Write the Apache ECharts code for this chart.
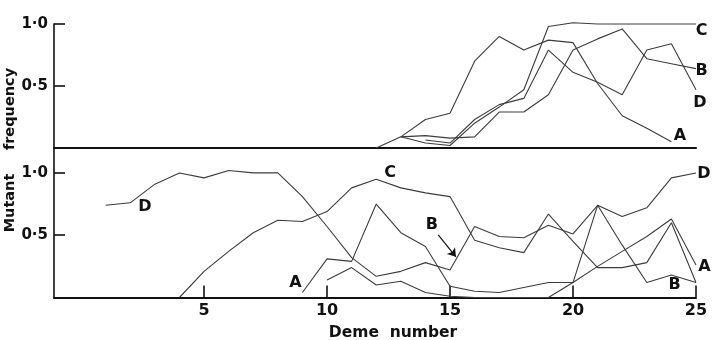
<!DOCTYPE html>
<html>
<head>
<meta charset="utf-8">
<script src="https://cdn.jsdelivr.net/npm/echarts@6/dist/echarts.min.js"></script>
<style>
html,body{margin:0;padding:0;background:#fff;}
#c{width:714px;height:340px;}
</style>
</head>
<body>
<div id="c"></div>
<script>
// Deme numbers (x values)
const demes = [1,2,3,4,5,6,7,8,9,10,11,12,13,14,15,16,17,18,19,20,21,22,23,24,25];
const xTickValues = [5,10,15,20,25];
const yTickValues = [0.5,1.0];

// Upper panel mutant frequencies (null = no value)
const topA = [null,null,null,null,null,null,null,null,null,null,null,0.00,0.09,0.23,0.28,0.70,0.90,0.79,0.87,0.85,0.52,0.26,0.16,0.05,null];
const topB = [null,null,null,null,null,null,null,null,null,null,null,null,0.09,0.10,0.08,0.09,0.29,0.29,0.43,0.79,0.88,0.96,0.72,0.68,0.64];
const topC = [null,null,null,null,null,null,null,null,null,null,null,null,0.09,0.04,0.02,0.20,0.33,0.47,0.98,1.01,1.00,1.00,1.00,1.00,1.00];
const topD = [null,null,null,null,null,null,null,null,null,null,null,null,null,0.065,0.04,0.23,0.35,0.40,0.79,0.61,0.53,0.43,0.79,0.84,0.47];

// Lower panel mutant frequencies
const botA = [null,null,null,null,null,null,null,null,0.04,0.31,0.29,0.75,0.52,0.41,0.09,0.05,0.04,0.08,0.12,0.12,0.25,0.37,0.49,0.63,0.26];
const botB = [null,null,null,null,null,null,null,null,null,0.14,0.24,0.10,0.13,0.04,0.01,0.00,0.00,0.00,0.00,0.12,0.74,0.42,0.12,0.18,0.12];
const botC = [null,null,null,0.00,0.21,0.37,0.52,0.62,0.61,0.69,0.88,0.95,0.88,0.84,0.81,0.46,0.40,0.36,0.67,0.45,0.24,0.24,0.28,0.60,0.12];
const botD = [0.74,0.76,0.91,1.00,0.96,1.02,1.00,1.00,0.81,0.57,0.32,0.17,0.21,0.28,0.22,0.57,0.49,0.48,0.58,0.51,0.74,0.65,0.72,0.96,1.00];

// Curve labels (data coordinates, panel index)
const curveLabels = [
  {t:'C', p:0, x:25.23, y:0.946},
  {t:'B', p:0, x:25.23, y:0.621},
  {t:'D', p:0, x:25.16, y:0.363},
  {t:'A', p:0, x:24.35, y:0.097},
  {t:'C', p:1, x:12.56, y:0.997},
  {t:'D', p:1, x:25.32, y:0.99},
  {t:'A', p:1, x:25.34, y:0.247},
  {t:'B', p:1, x:24.13, y:0.100},
  {t:'B', p:1, x:14.26, y:0.582},
  {t:'D', p:1, x:2.60, y:0.729},
  {t:'A', p:1, x:8.72, y:0.114}
];
const arrowFrom = [14.52, 0.502];
const arrowTo = [15.24, 0.327];

const FONT = '"DejaVu Sans", "Liberation Sans", sans-serif';
const LINE_COLOR = '#3c3c3c';

function pairs(vals){
  const out = [];
  vals.forEach((v,i)=>{ if(v!==null) out.push([demes[i], v]); });
  return out;
}
function fmtY(v){ return v.toFixed(1).replace('.', '\u00b7'); }

function lineSeries(name, vals, idx, extra){
  return Object.assign({
    name: name, type:'line', xAxisIndex: idx, yAxisIndex: idx,
    data: pairs(vals), showSymbol:false, symbol:'none', clip:false,
    lineStyle:{color:LINE_COLOR, width:1.1}, silent:true
  }, extra||{});
}

const chart = echarts.init(document.getElementById('c'), null, {renderer:'canvas'});

function yAxisCfg(idx, max){
  return {
    type:'value', gridIndex: idx, min:0, max:max,
    axisLine:{show:true, onZero:false, lineStyle:{color:'#111', width:1.6}},
    axisTick:{show:true, inside:true, length:11, customValues:yTickValues, lineStyle:{color:'#111', width:1.6}},
    axisLabel:{show:true, customValues:yTickValues, formatter:fmtY, margin:6,
      fontFamily:FONT, fontWeight:'bold', fontSize:15, color:'#111'},
    splitLine:{show:false}
  };
}

chart.setOption({
  animation:false,
  backgroundColor:'#fff',
  grid:[
    {left:54, right:18, top:24, height:124},
    {left:54, right:18, top:148, height:149.5}
  ],
  xAxis:[
    {type:'value', gridIndex:0, min:-1.1, max:25,
     axisLine:{show:true, onZero:false, lineStyle:{color:'#111', width:2}},
     axisTick:{show:false}, axisLabel:{show:false}, splitLine:{show:false}},
    {type:'value', gridIndex:1, min:-1.1, max:25,
     axisLine:{show:true, onZero:false, lineStyle:{color:'#111', width:2}},
     axisTick:{show:true, inside:true, length:12, customValues:xTickValues, lineStyle:{color:'#111', width:1.6}},
     axisLabel:{show:true, customValues:xTickValues, margin:5,
       fontFamily:FONT, fontWeight:'bold', fontSize:16, color:'#111'},
     splitLine:{show:false}}
  ],
  yAxis:[ yAxisCfg(0, 1.0), yAxisCfg(1, 1.2) ],
  series:[
    lineSeries('A', topA, 0),
    lineSeries('B', topB, 0),
    lineSeries('C', topC, 0),
    lineSeries('D', topD, 0),
    lineSeries('A', botA, 1),
    lineSeries('B', botB, 1),
    lineSeries('C', botC, 1),
    lineSeries('D', botD, 1, {
      markLine:{
        silent:true, symbol:['none','arrow'], symbolSize:8, label:{show:false},
        lineStyle:{color:'#111', width:1.2, type:'solid'},
        emphasis:{disabled:true},
        data:[[{coord:arrowFrom},{coord:arrowTo}]]
      }
    })
  ]
});

const g = [];
curveLabels.forEach(l=>{
  const px = chart.convertToPixel({gridIndex:l.p}, [l.x, l.y]);
  g.push({type:'text', x:px[0], y:px[1], silent:true,
    style:{text:l.t, align:'center', verticalAlign:'middle',
      font:'bold 16px ' + FONT, fill:'#111'}});
});
g.push({type:'text', x:393, y:333, silent:true,
  style:{text:'Deme  number', align:'center', verticalAlign:'middle',
    font:'bold 15.5px ' + FONT, fill:'#111'}});
g.push({type:'text', x:10, y:203, rotation:Math.PI/2, silent:true,
  style:{text:'Mutant', align:'center', verticalAlign:'middle',
    font:'bold 14.5px ' + FONT, fill:'#111'}});
g.push({type:'text', x:10, y:109, rotation:Math.PI/2, silent:true,
  style:{text:'frequency', align:'center', verticalAlign:'middle',
    font:'bold 14.5px ' + FONT, fill:'#111'}});
chart.setOption({graphic:g});
</script>
</body>
</html>
